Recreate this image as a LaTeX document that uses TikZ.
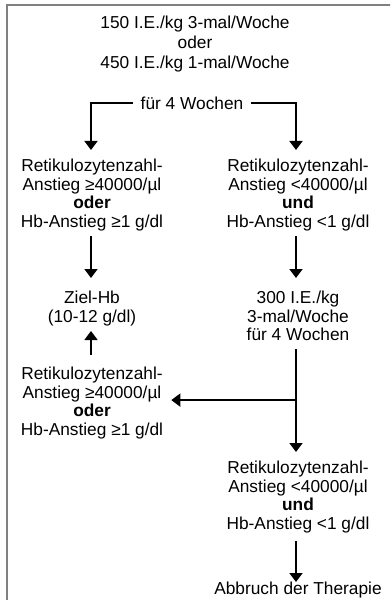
\documentclass[tikz,border=0pt]{standalone}
\usepackage{fontspec}
\setmainfont{Liberation Sans}
\usetikzlibrary{arrows.meta,calc}
\begin{document}
\begin{tikzpicture}[x=1bp,y=-1bp,
  txt/.style={align=center,inner sep=0pt,anchor=north,font=\fontsize{17.3bp}{18.5bp}\selectfont},
  arr/.style={line width=1.6bp,-{Triangle[width=13bp,length=9bp]}},
  ln/.style={line width=1.6bp}]
\useasboundingbox (0,0) rectangle (390,600);
\begin{scope}
\clip (0,0) rectangle (390,600);
\draw[gray,line width=1.5bp] (7,5) rectangle (420,640);
\end{scope}
\node[txt,font=\fontsize{17.3bp}{20bp}\selectfont] (top) at (195,16) {150 I.E./kg 3-mal/Woche\\oder\\450 I.E./kg 1-mal/Woche};
\node[txt,anchor=center,inner xsep=8bp] (fuer) at (192,103) {für 4 Wochen};
\node[txt] (L1) at (92,159) {Retikulozytenzahl-\\Anstieg ≥40000/µl\\\textbf{oder}\\Hb-Anstieg ≥1 g/dl};
\node[txt] (R1) at (298,159) {Retikulozytenzahl-\\Anstieg <40000/µl\\\textbf{und}\\Hb-Anstieg <1 g/dl};
\node[txt] (Z) at (92,291) {Ziel-Hb\\(10-12 g/dl)};
\node[txt] (R2) at (298,291) {300 I.E./kg\\3-mal/Woche\\für 4 Wochen};
\node[txt] (L3) at (92,367) {Retikulozytenzahl-\\Anstieg ≥40000/µl\\\textbf{oder}\\Hb-Anstieg ≥1 g/dl};
\node[txt] (R3) at (298,461) {Retikulozytenzahl-\\Anstieg <40000/µl\\\textbf{und}\\Hb-Anstieg <1 g/dl};
\node[txt] (A) at (298,582) {Abbruch der Therapie};
\draw[arr] (fuer.west) -| ($(L1.north)+(-1,-9)$);
\draw[arr] (fuer.east) -| ($(R1.north)+(-2,-9)$);
\draw[arr] ($(L1.south)+(-1,5)$) -- ($(Z.north)+(-1,-13)$);
\draw[arr] ($(R1.south)+(-2,5)$) -- ($(R2.north)+(-2,-13)$);
\draw[arr] ($(L3.north)+(-1,-12)$) -- ($(Z.south)+(-1,5)$);
\coordinate (J) at ($(R2.south)+(-2,59)$);
\draw[arr] ($(R2.south)+(-2,8)$) -- ($(R3.north)+(-2,-9)$);
\draw[arr] (J) -- ($(J -| L3.east)+(8,0)$);
\draw[arr] ($(R3.south)+(-2,8)$) -- ($(A.north)+(-2,0)$);
\end{tikzpicture}
\end{document}
